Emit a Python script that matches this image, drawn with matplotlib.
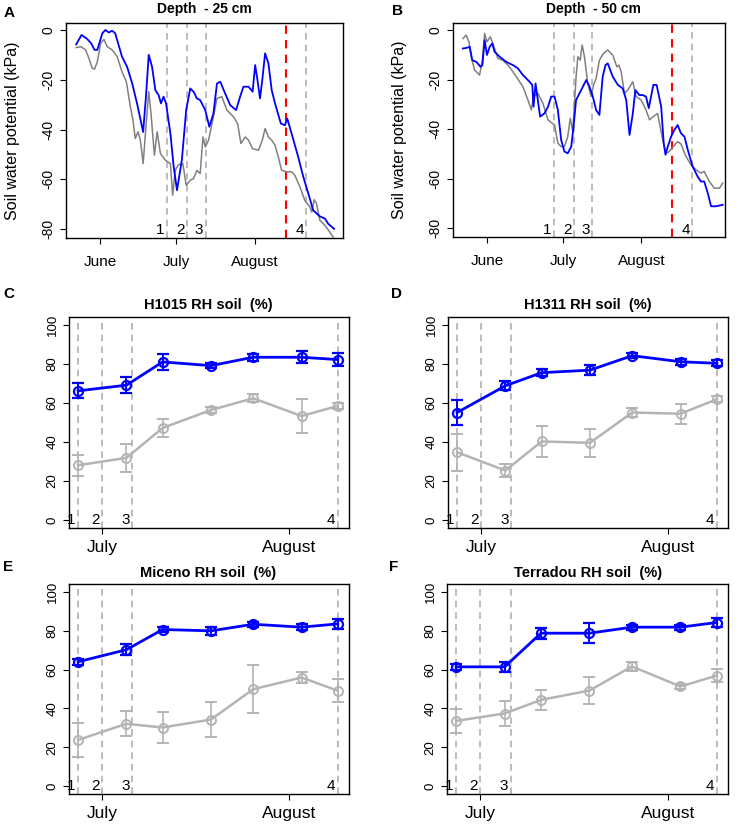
import matplotlib
matplotlib.use('Agg')
import matplotlib.pyplot as plt

plt.rcParams['font.family'] = ['Liberation Sans', 'DejaVu Sans']
plt.rcParams['axes.unicode_minus'] = False

# ---------------- data ----------------
# top panels: day of year, soil water potential (kPa)
a_blue_day = [142.7,144.8,147,148.6,149.9,151,153,154.2,155.5,156.8,158,160.7,162.7,164.7,166.6,169,170.1,171.2,172.5,173.8,175.1,176,177,178,179.7,181,182.3,184.2,185.9,187.5,188.8,190.1,191.4,193.4,195,196.6,198,199.3,201.2,203.2,205.5,207.1,208.4,210.4,212,213,213.9,214.9,215.8,216.9,218.2,219.5,220.8,223.1,224.7,225.6,227.3,229.9,231.9,233.9,235.8,238.4,240.4,241.7,244]
a_blue_val = [-5.8,-2,-3.6,-5.4,-8,-8,-1.3,0,-1,-0.3,-1.3,-10.7,-14.8,-21.5,-29.5,-41,-26.8,-10,-14.8,-24.2,-26.2,-29.5,-26.8,-29.5,-41.6,-55,-64.4,-52.3,-32.2,-23.5,-24.8,-27.5,-28.2,-32.2,-38.9,-33.6,-21.5,-20.8,-25.5,-30.2,-32.2,-26.8,-22.8,-22.8,-24.8,-14.1,-20.1,-27.5,-20.1,-9.4,-13.4,-24.2,-29.5,-37.6,-38.3,-35.6,-41.6,-51,-59,-65.8,-72.5,-74.9,-75.8,-77.9,-79.9]
a_gray_day = [142.7,144.6,146.4,147.7,149,149.9,151,152.3,153.6,154.9,156.8,158.8,160.7,162.4,164,165,165.9,167,167.9,169,169.9,171.2,172.1,173.4,174.5,175.8,177.7,179.7,180.6,181.6,182.9,184.6,185.9,187.5,188.8,190.1,191.4,192.5,193.4,194.7,196.6,198,199.9,201.9,204.5,206.1,207.4,209.1,210.4,212,214.3,215.8,216.9,218.2,219.5,220.8,222.1,223.4,225.4,227.3,228.6,230.6,232.5,234.5,235.2,236.2,237.1,238.4,240.4,242.3,243.6]
a_gray_val = [-7.1,-6.7,-8,-11.4,-15.4,-15.7,-12.8,-5.4,-3.8,-6.7,-8,-10.7,-16.8,-20.8,-30.9,-36.2,-43.6,-40.9,-44.3,-53.7,-41.6,-24.8,-33.6,-50.3,-40.9,-49.7,-52.3,-53.7,-66.4,-56.4,-54.1,-53.7,-62.4,-60.4,-59.7,-56.4,-57.7,-43,-47,-44.3,-34.9,-27.5,-26.8,-32.2,-34.9,-37.6,-45.6,-43,-44.3,-47.7,-48.3,-44.3,-39.6,-43,-44.3,-46.3,-51,-56.4,-57,-57,-58.4,-63.1,-68.5,-71.1,-73.2,-68.2,-69.8,-76.5,-78.5,-81.2,-83.2]

b_blue_day = [142.5,144.2,145.2,146.2,147.8,149.5,150.2,151.1,152,153.1,154.1,155,157,159.6,162.3,164.2,166.2,168.8,169.9,170.4,171.2,172.1,173,174.7,176.1,177.4,178.7,180,181.3,182.6,183.9,185.3,186.2,187.2,189.2,191.2,192.5,193.8,195.1,196.4,197.7,198.8,199.7,201.7,203.7,205.6,207,208.3,209.6,210.6,212.2,213.5,214.8,215.9,216.8,217.7,219,220.8,221.8,222.5,223.4,224.7,226,227.3,228.6,230,231.3,233.2,235.2,236.5,237.8,239.2,240.5,242.4,245.1]
b_blue_val = [-7.4,-7.1,-6.7,-12.1,-12.8,-14.8,-14.1,-4,-10,-6.7,-5.4,-8.7,-10.7,-12.8,-14.1,-15.4,-18.1,-20.8,-22.1,-30.9,-21.5,-28.2,-34.9,-33.6,-30.9,-26.8,-26.8,-32.2,-44.3,-49,-49.7,-47,-38.9,-28.2,-24.2,-20.1,-22.8,-26.8,-32.2,-34.2,-18.8,-14.1,-13.4,-18.8,-22.1,-23.5,-28.2,-42.3,-33.6,-24.2,-26.2,-26.2,-26.8,-31.5,-26.8,-22.1,-22.1,-30.9,-45.6,-50.3,-47,-43,-40.3,-38.3,-41.6,-43,-48.3,-55,-59.1,-61.1,-61.1,-65.8,-71.1,-71.1,-70.5]
b_gray_day = [142.5,143.8,144.9,145.8,147.1,149.1,150.2,151.1,152,153.3,154.4,156.3,158.3,160.9,163.6,166.2,168.2,169.5,170.4,172.1,174.1,176.1,178.7,180,181.3,182.6,183.9,184.9,185.9,187.2,187.9,188.8,189.6,190.5,191.8,193.1,194.1,195.1,196.4,198,199.7,201.7,203.3,204.1,205,206.3,207.6,209.6,210.9,212.9,214.8,216.2,217.7,219.4,221.4,222.7,224,225.6,227.3,228.6,230.6,232.6,234.6,236.5,237.8,239.8,241.8,243.8,245.1]
b_gray_val = [-3.4,-2,-4.7,-10.7,-16.1,-18.1,-12.1,-1.3,-4.7,-2.7,-5.4,-11.4,-12.1,-14.8,-18.8,-22.8,-28.2,-32.2,-26.8,-25.5,-29.5,-36.2,-38.3,-45.6,-47,-47,-43,-35.6,-40.9,-18.8,-10.7,-12.1,-6,-10.7,-21.5,-26.8,-22.1,-19.5,-12.1,-9.4,-8,-10.1,-14.8,-14.1,-16.8,-25.5,-24.2,-20.8,-26.8,-28.2,-32.2,-36.2,-34.9,-33.6,-44.3,-49.7,-49,-47,-45,-45.9,-51,-54.4,-56.4,-57.7,-57,-61.1,-63.8,-63.8,-61.7]

top_month_days = [152, 182, 213]
top_month_labels = ['June', 'July', 'August']
top_event_days = [178.3, 186.3, 193.5, 233.0]
top_event_labels = ['1', '2', '3', '4']
top_red_day = 225.0
top_titles = ['Depth  - 25 cm', 'Depth  - 50 cm']
top_yticks = [0, -20, -40, -60, -80]

# bottom panels: relative humidity of soil (%)
rh_days = [178, 186, 192, 200, 207, 215, 221]
rh_event_days = [178, 182, 187, 221]
rh_event_labels = ['1', '2', '3', '4']
rh_month_days = [182, 213]
rh_month_labels = ['July', 'August']
rh_yticks = [0, 20, 40, 60, 80, 100]

c_blue = [66.2, 69.1, 81.0, 79.1, 83.4, 83.4, 82.2]
c_blue_err = [3.8, 4.0, 4.0, 1.3, 1.7, 3.2, 3.4]
c_gray = [28.1, 31.9, 47.2, 56.4, 62.4, 53.3, 58.5]
c_gray_err = [5.4, 7.0, 4.6, 1.3, 2.1, 8.6, 1.5]
d_blue = [55.1, 68.8, 75.5, 76.8, 84.2, 81.1, 80.3]
d_blue_err = [6.2, 2.4, 1.9, 2.4, 1.4, 1.5, 1.5]
d_gray = [34.8, 25.4, 40.3, 39.6, 55.1, 54.5, 61.9]
d_gray_err = [9.4, 3.3, 7.9, 7.3, 2.1, 5.1, 1.5]
e_blue = [64.0, 70.2, 80.6, 79.9, 83.3, 81.8, 83.5]
e_blue_err = [1.4, 2.7, 1.2, 2.1, 1.2, 1.6, 2.7]
e_gray = [23.8, 32.1, 30.2, 34.3, 49.9, 55.9, 49.1]
e_gray_err = [8.7, 6.4, 7.9, 9.2, 12.2, 2.6, 5.8]
f_blue = [61.4, 61.4, 78.7, 78.7, 81.8, 81.8, 84.2]
f_blue_err = [1.5, 2.4, 2.8, 5.1, 1.3, 1.3, 2.1]
f_gray = [33.6, 37.4, 44.4, 49.2, 61.6, 51.3, 56.9]
f_gray_err = [6.1, 6.4, 5.1, 6.9, 2.4, 1.5, 3.5]
rh_titles = ['H1015 RH soil  (%)', 'H1311 RH soil  (%)', 'Miceno RH soil  (%)', 'Terradou RH soil  (%)']

# ---------------- figure ----------------
W, H = 736, 827
fig = plt.figure(figsize=(W / 100, H / 100), dpi=100)


def ax_px(l, t, r, b):
    return fig.add_axes([l / W, 1 - b / H, (r - l) / W, (b - t) / H])


def text_px(x, y, s, **kw):
    fig.text(x / W, 1 - y / H, s, **kw)


BLUE = '#0000FF'
GRAY_TOP = '#808080'
GRAY_RH = '#B4B4B4'
VLINE = '#B0B0B0'


def style_axes(ax, ytick_size, xtick_size, xpad):
    for sp in ax.spines.values():
        sp.set_linewidth(1.0)
        sp.set_color('black')
    ax.tick_params(axis='both', direction='out', length=4.5, width=0.8, color='black')
    ax.tick_params(axis='y', labelrotation=90, labelsize=ytick_size, pad=3)
    ax.tick_params(axis='x', labelsize=xtick_size, pad=xpad)
    for lab in ax.get_yticklabels():
        lab.set_va('center')


# top panels
top_specs = [
    ((66, 23, 343, 238), (138.7, 247.5), (-83.6, 2.8), a_blue_day, a_blue_val, a_gray_day, a_gray_val),
    ((453, 23, 725, 237), (138.6, 246.0), (-83.5, 2.9), b_blue_day, b_blue_val, b_gray_day, b_gray_val),
]
for i, (box, xl, yl, bd, bv, gd, gv) in enumerate(top_specs):
    ax = ax_px(*box)
    ax.set_xlim(*xl)
    ax.set_ylim(*yl)
    for d in top_event_days:
        ax.axvline(d, color=VLINE, lw=1.2, ls=(0, (4, 3)), zorder=1)
    ax.axvline(top_red_day, color='#FF0000', lw=1.5, ls=(0, (4, 3)), zorder=1)
    ax.plot(gd, gv, color=GRAY_TOP, lw=1.1, zorder=2)
    ax.plot(bd, bv, color=BLUE, lw=1.3, zorder=3)
    for d, s in zip(top_event_days, top_event_labels):
        ax.text(d - 2.5, -80.5, s, ha='center', va='center', fontsize=11)
    ax.set_yticks(top_yticks)
    ax.set_yticklabels([str(v) for v in top_yticks])
    ax.set_xticks(top_month_days)
    ax.set_xticklabels(top_month_labels)
    style_axes(ax, 10, 11, 8)

text_px(13, 130.5, 'Soil water potential (kPa)', rotation=90, ha='center', va='center', fontsize=11.5)
text_px(399, 130, 'Soil water potential (kPa)', rotation=90, ha='center', va='center', fontsize=11.5)
text_px(204.5, 9, top_titles[0], ha='center', va='center', fontsize=10, fontweight='bold')
text_px(593, 9, top_titles[1], ha='center', va='center', fontsize=10, fontweight='bold')

# bottom panels
rh_specs = [
    ((69, 317, 349, 528), c_blue, c_blue_err, c_gray, c_gray_err),
    ((448, 317, 728, 528), d_blue, d_blue_err, d_gray, d_gray_err),
    ((69, 584, 349, 794), e_blue, e_blue_err, e_gray, e_gray_err),
    ((447, 584, 728, 794), f_blue, f_blue_err, f_gray, f_gray_err),
]
title_pos = [(208, 305), (588, 305), (208, 573), (588, 573)]
for i, (box, bv, be, gv, ge) in enumerate(rh_specs):
    ax = ax_px(*box)
    ax.set_xlim(176.5, 222.85)
    ax.set_ylim(-4, 104)
    for d in rh_event_days:
        ax.axvline(d, color=VLINE, lw=1.2, ls=(0, (4, 3)), zorder=1)
    ax.errorbar(rh_days, gv, yerr=ge, fmt='-o', color=GRAY_RH, mfc='none', mec=GRAY_RH,
                ms=6.5, mew=1.4, lw=1.8, elinewidth=1.2, capsize=4, capthick=1.2, zorder=2)
    ax.errorbar(rh_days, bv, yerr=be, fmt='-o', color=BLUE, mfc='none', mec=BLUE,
                ms=6.5, mew=1.6, lw=2.0, elinewidth=1.4, capsize=4, capthick=1.4, zorder=3)
    for d, s in zip(rh_event_days, rh_event_labels):
        ax.text(d - 1.1, 0, s, ha='center', va='center', fontsize=11)
    ax.set_yticks(rh_yticks)
    ax.set_yticklabels([str(v) for v in rh_yticks])
    ax.set_xticks(rh_month_days)
    ax.set_xticklabels(rh_month_labels)
    style_axes(ax, 9.5, 12.5, 4)
    tx, ty = title_pos[i]
    text_px(tx, ty, rh_titles[i], ha='center', va='center', fontsize=10.5, fontweight='bold')

# panel letters
for s, x, y in [('A', 4, 13), ('B', 392, 11), ('C', 3, 294), ('D', 391, 294), ('E', 3, 567), ('F', 389, 567)]:
    text_px(x, y, s, ha='left', va='center', fontsize=11, fontweight='bold')

fig.savefig('out.png', dpi=100)
